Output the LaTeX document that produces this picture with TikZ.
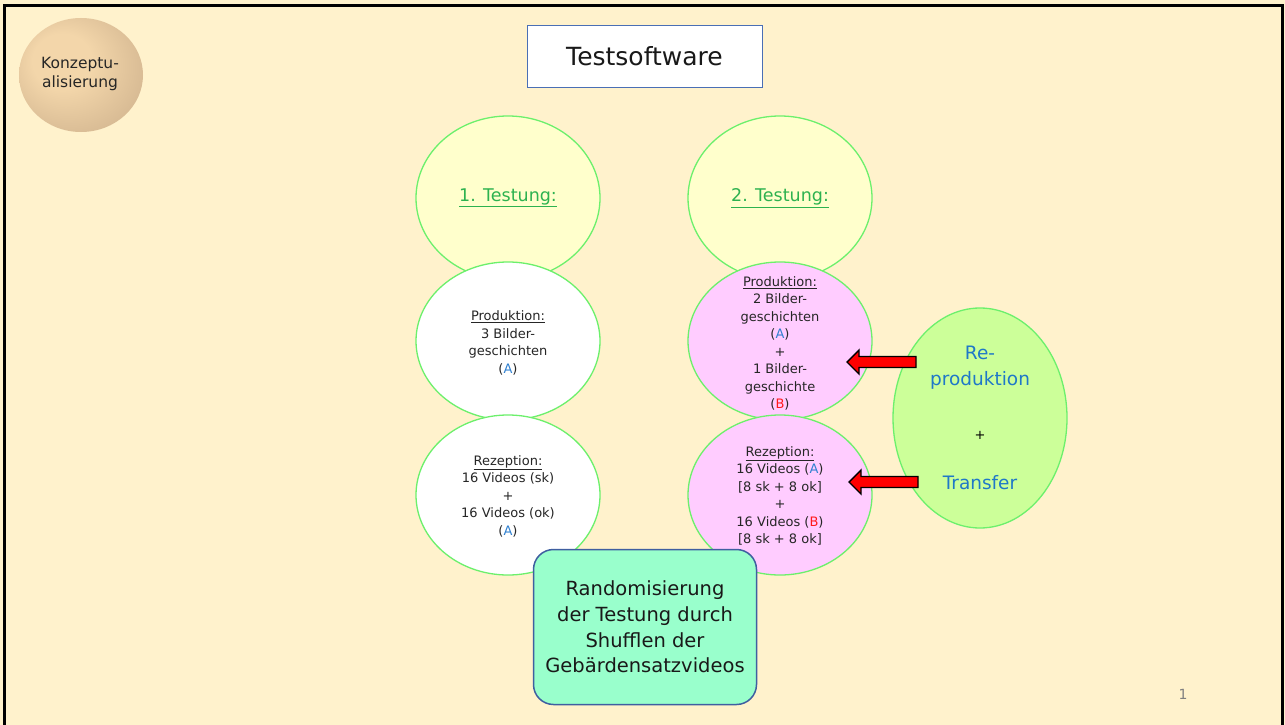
\documentclass[tikz,border=0pt]{standalone}
\usepackage{fontspec}
\setmainfont{DejaVu Sans}
\usetikzlibrary{shapes.geometric}
\definecolor{pagebg}{HTML}{FFF2CC}
\definecolor{yellowfill}{HTML}{FFFFCC}
\definecolor{pinkfill}{HTML}{FFCCFF}
\definecolor{limefill}{HTML}{CCFF99}
\definecolor{ovalline}{HTML}{6CF06C}
\definecolor{tealfill}{HTML}{99FFCC}
\definecolor{navyline}{HTML}{3F5FA0}
\definecolor{boxline}{HTML}{4A6FB5}
\definecolor{groupA}{HTML}{2F80D0}
\definecolor{groupB}{HTML}{FF1A1A}
\definecolor{reblue}{HTML}{1F78C8}
\definecolor{headgreen}{HTML}{2DB24F}
\definecolor{ballhi}{HTML}{F3D6AA}
\definecolor{ballmid}{HTML}{C9AC88}
\definecolor{balllo}{HTML}{A88E70}
\pgfdeclareradialshading{konzball}{\pgfpoint{-10bp}{8bp}}{%
  color(0bp)=(ballhi); color(12bp)=(ballhi); color(40bp)=(ballmid); color(48bp)=(balllo); color(50bp)=(pagebg)}
\newcommand{\gA}{(\textcolor{groupA}{A})}
\newcommand{\gB}{(\textcolor{groupB}{B})}
\tikzset{
  oval/.style={ellipse, draw=ovalline, line width=1.3pt, minimum width=184pt, minimum height=160pt, inner sep=0pt},
  ovaltext/.style={align=center, font=\fontsize{13}{17.5}\selectfont, text=black!85, inner sep=0pt},
  headtext/.style={align=center, font=\fontsize{17.5}{20}\selectfont, text=headgreen, inner sep=0pt},
  blockarrow/.style={fill=red, draw=black, line width=1.4pt, line join=miter},
}
\begin{document}
\begin{tikzpicture}[x=1pt,y=-1pt]
\useasboundingbox (0,0) rectangle (1285,725);
% page and frame
\fill[pagebg] (0,0) rectangle (1285,725);
\draw[line width=3pt] (4.5,730) -- (4.5,6) -- (1282.5,6) -- (1282.5,730);

% Konzeptualisierung ball
\shade[shading=konzball] (81,75) ellipse [x radius=62pt, y radius=57pt];
\node[align=center, font=\fontsize{15.5}{19}\selectfont, text=black!85] (konz) at (80,74) {Konzeptu-\\alisierung};

% title box
\node[draw=boxline, fill=white, line width=1pt, minimum width=235pt, minimum height=61pt,
      font=\fontsize{25}{28}\selectfont, text=black!90] (title) at (644.5,56.5) {Testsoftware};

% first column
\node[oval, fill=yellowfill, minimum height=164pt] (t1) at (508,198) {};
\node[headtext] (t1txt) at (t1) {\underline{1. Testung:}};
\node[oval, fill=white, minimum height=158pt] (p1) at (508,341) {};
\node[ovaltext] (p1txt) at (508,343) {\underline{Produktion:}\\3 Bilder-\\geschichten\\\gA};
\node[oval, fill=white] (r1) at (508,495) {};
\node[ovaltext] (r1txt) at (508,496) {\underline{Rezeption:}\\16 Videos (sk)\\+\\16 Videos (ok)\\\gA};

% second column
\node[oval, fill=yellowfill, minimum height=164pt] (t2) at (780,198) {};
\node[headtext] (t2txt) at (t2) {\underline{2. Testung:}};
\node[oval, fill=pinkfill, minimum height=158pt] (p2) at (780,341) {};
\node[ovaltext] (p2txt) at (780,343.5) {\underline{Produktion:}\\2 Bilder-\\geschichten\\\gA\\+\\1 Bilder-\\geschichte\\\gB};
\node[oval, fill=pinkfill] (r2) at (780,495) {};
\node[ovaltext] (r2txt) at (780,496) {\underline{Rezeption:}\\16 Videos \gA\\{}[8 sk + 8 ok]\\+\\16 Videos \gB\\{}[8 sk + 8 ok]};

% reproduction / transfer
\node[oval, fill=limefill, minimum width=174pt, minimum height=220pt] (rt) at (980,418) {};
\node[align=center, font=\fontsize{18.5}{26}\selectfont, text=reblue, inner sep=0pt] (retxt) at (980,368) {Re-\\produktion};
\node[font=\fontsize{13}{16}\selectfont, text=black, inner sep=0pt] (plus) at (980,435) {+};
\node[font=\fontsize{18.5}{22}\selectfont, text=reblue, inner sep=0pt] (trtxt) at (980,483) {Transfer};

% block arrows from the transfer oval to the second column
\coordinate (a1) at (847,362);
\coordinate (a2) at (849,482);
\draw[blockarrow] (a1) -- ++(12,-12) -- ++(0,6.5) -- ++(57,0) -- ++(0,11) -- ++(-57,0) -- ++(0,6.5) -- cycle;
\draw[blockarrow] (a2) -- ++(12,-12) -- ++(0,6.5) -- ++(57,0) -- ++(0,11) -- ++(-57,0) -- ++(0,6.5) -- cycle;

% randomisation box
\node[draw=navyline, fill=tealfill, line width=1.5pt, rounded corners=20pt,
      minimum width=223pt, minimum height=155pt, align=center,
      font=\fontsize{19.5}{25.6}\selectfont, text=black!90] (rand) at (645,627)
      {Randomisierung\\der Testung durch\\Shufflen der\\Gebärdensatzvideos};

% page number
\node[font=\fontsize{14}{16}\selectfont, text=black!50] (pnum) at (1183,694) {1};
\end{tikzpicture}
\end{document}
